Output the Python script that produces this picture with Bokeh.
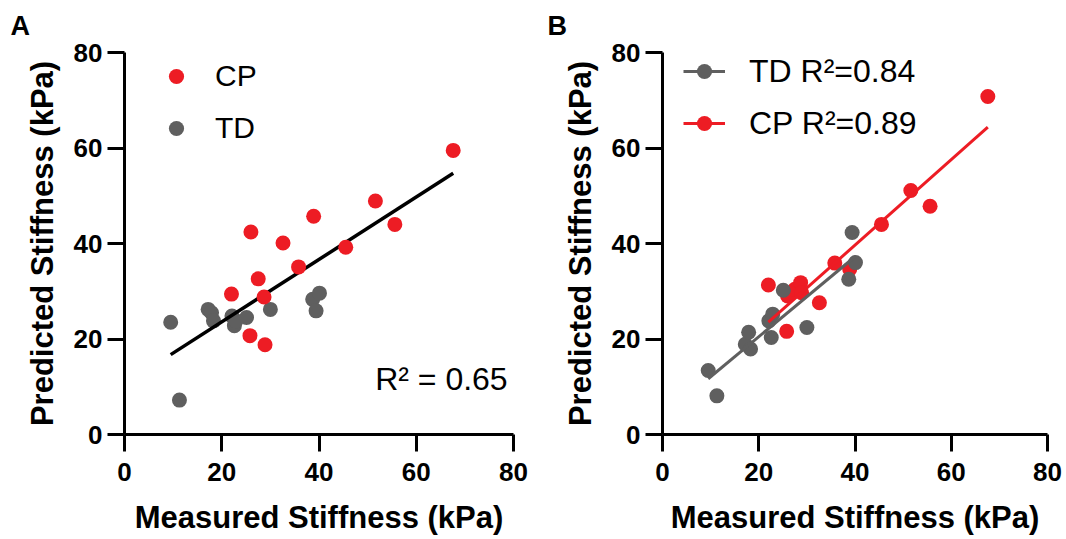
import numpy as np
from bokeh.plotting import figure
from bokeh.layouts import row
from bokeh.models import Range1d, FixedTicker, Legend, LegendItem, Label
from bokeh.embed import file_html
from bokeh.resources import INLINE

# ---------------- data ----------------
cp_measured = [67.6, 51.6, 55.6, 38.9, 26.0, 32.6, 45.5, 35.8, 27.5, 22.0, 28.7, 25.8, 28.9]
cp_pred_A   = [59.5, 48.9, 44.0, 45.7, 42.4, 40.1, 39.2, 35.1, 32.6, 29.4, 28.8, 20.7, 18.8]
cp_pred_B   = [70.8, 51.1, 47.8, 34.6, 29.0, 27.6, 44.0, 35.9, 30.4, 31.3, 31.8, 21.6, 29.7]

td_measured = [9.5, 11.3, 17.2, 17.9, 18.3, 22.1, 22.6, 22.9, 25.1, 30.0, 38.7, 39.4, 40.1]
td_pred_A   = [23.5, 7.2, 26.2, 25.5, 23.8, 24.8, 22.8, 23.8, 24.5, 26.2, 28.3, 25.9, 29.6]
td_pred_B   = [13.4, 8.1, 18.9, 21.4, 17.9, 23.8, 20.3, 25.2, 30.2, 22.4, 32.5, 42.3, 36.0]

ticks = [0, 20, 40, 60, 80]
x_label = "Measured Stiffness (kPa)"
y_label = "Predicted Stiffness (kPa)"
panel_A = "A"
panel_B = "B"
r2_all_text = "R\u00b2 = 0.65"
td_legend = "TD R\u00b2=0.84"
cp_legend = "CP R\u00b2=0.89"

RED = "#ED1C24"
GRAY = "#5F5F5F"
FONT = "Liberation Sans"


def make_fig(frame_w, border_left, border_right, letter, letter_offset):
    p = figure(frame_width=frame_w, frame_height=382,
               x_range=Range1d(0, 80), y_range=Range1d(0, 80),
               output_backend="svg", toolbar_location=None,
               min_border_left=border_left, min_border_right=border_right,
               min_border_top=52, min_border_bottom=105)
    p.grid.visible = False
    p.outline_line_color = None
    p.background_fill_color = "white"
    p.border_fill_color = "white"
    # panel letter as the figure title
    p.title.text = letter
    p.title.align = "left"
    p.title.vertical_align = "top"
    p.title.offset = letter_offset
    p.title.standoff = 19
    p.title.text_font = FONT
    p.title.text_font_style = "bold"
    p.title.text_font_size = "27px"
    p.title.text_color = "black"
    for ax in (p.xaxis[0], p.yaxis[0]):
        ax.ticker = FixedTicker(ticks=ticks)
        ax.axis_line_width = 3
        ax.axis_line_color = "black"
        ax.major_tick_line_width = 3
        ax.major_tick_line_color = "black"
        ax.major_tick_out = 17
        ax.major_tick_in = 0
        ax.minor_tick_line_color = None
        ax.major_label_text_font = FONT
        ax.major_label_text_font_style = "bold"
        ax.major_label_text_font_size = "26px"
        ax.major_label_text_color = "black"
        ax.axis_label_text_font = FONT
        ax.axis_label_text_font_style = "bold"
        ax.axis_label_text_font_size = "31px"
        ax.axis_label_text_color = "black"
    p.xaxis.axis_label = x_label
    p.yaxis.axis_label = y_label
    p.xaxis.major_label_standoff = 11
    p.xaxis.axis_label_standoff = 16
    p.yaxis.major_label_standoff = 5
    p.yaxis.axis_label_standoff = 11
    return p


def fit_line(xs, ys):
    xs = np.asarray(xs)
    ys = np.asarray(ys)
    m, b = np.polyfit(xs, ys, 1)
    xe = np.array([xs.min(), xs.max()])
    return xe, m * xe + b


# ---------------- panel A ----------------
pA = make_fig(389, 124, 24, panel_A, -114)
r_td_A = pA.scatter(td_measured, td_pred_A, size=15, fill_color=GRAY, line_color=None)
all_x = cp_measured + td_measured
all_y = cp_pred_A + td_pred_A
fx, fy = fit_line(all_x, all_y)
pA.line(fx, fy, line_color="black", line_width=3.5)
r_cp_A = pA.scatter(cp_measured, cp_pred_A, size=15, fill_color=RED, line_color=None)

legA = Legend(items=[LegendItem(label="CP", renderers=[r_cp_A]),
                     LegendItem(label="TD", renderers=[r_td_A])],
              location=(32, 287), glyph_width=40, glyph_height=38, spacing=14,
              padding=0, margin=0, label_standoff=19, border_line_color=None,
              background_fill_alpha=0, label_text_font=FONT,
              label_text_font_size="30px", label_text_color="black")
pA.add_layout(legA)
pA.add_layout(Label(x=78.8, y=11.7, text=r2_all_text, text_align="right",
                    text_baseline="alphabetic", text_font=FONT,
                    text_font_size="32px", text_color="black"))

# ---------------- panel B ----------------
pB = make_fig(385, 125, 19, panel_B, -115)
r_cp_B = pB.scatter(cp_measured, cp_pred_B, size=15, fill_color=RED, line_color=None)
r_td_B = pB.scatter(td_measured, td_pred_B, size=15, fill_color=GRAY, line_color=None)
cx, cy = fit_line(cp_measured, cp_pred_B)
l_cp_B = pB.line(cx, cy, line_color=RED, line_width=3)
tx, ty = fit_line(td_measured, td_pred_B)
l_td_B = pB.line(tx, ty, line_color=GRAY, line_width=3)

legB = Legend(items=[LegendItem(label=td_legend, renderers=[l_td_B, r_td_B]),
                     LegendItem(label=cp_legend, renderers=[l_cp_B, r_cp_B])],
              location=(21, 292), glyph_width=42, glyph_height=38, spacing=14,
              padding=0, margin=0, label_standoff=24, border_line_color=None,
              background_fill_alpha=0, label_text_font=FONT,
              label_text_font_size="32px", label_text_color="black")
pB.add_layout(legB)

layout = row(pA, pB)
open("out.html", "w").write(file_html(layout, INLINE))
